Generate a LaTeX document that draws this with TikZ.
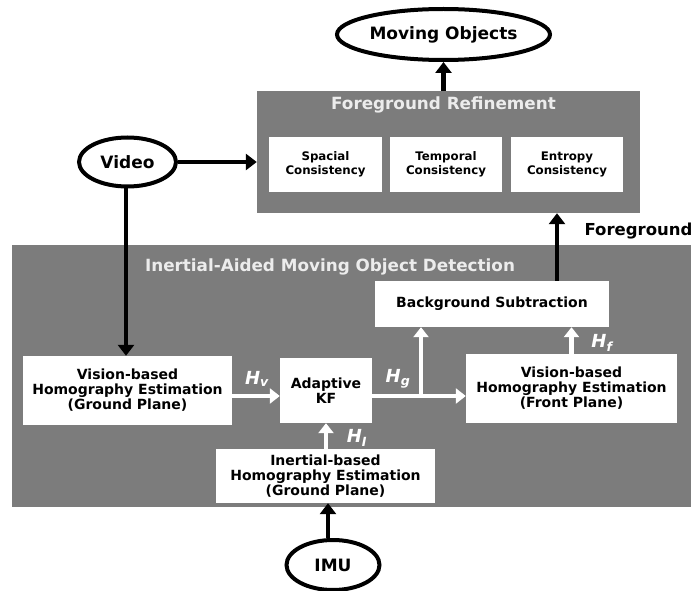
\documentclass[tikz,border=0pt]{standalone}
\usepackage{fontspec}
\setmainfont{DejaVu Sans}
\usetikzlibrary{arrows.meta,shapes.geometric}
\definecolor{panelgray}{RGB}{124,124,124}
\definecolor{paneltext}{RGB}{236,236,236}
\tikzset{
  panel/.style={fill=panelgray, draw=none, inner sep=0pt},
  paneltitle/.style={text=paneltext, font=\bfseries\fontsize{16.8}{18}\selectfont, inner sep=0pt},
  wbox/.style={fill=white, draw=none, align=center, inner sep=0pt,
    font=\bfseries\fontsize{14}{15}\selectfont},
  cbox/.style={wbox, font=\bfseries\fontsize{11.8}{14}\selectfont},
  oval/.style={ellipse, draw=black, line width=4pt, fill=white, inner sep=0pt,
    font=\bfseries\fontsize{17}{20}\selectfont},
  blk/.style={draw=black, line width=4.5pt, -{Triangle[width=16pt,length=11pt]}},
  wht/.style={draw=white, line width=4.5pt, -{Triangle[width=15pt,length=10pt]}},
  hlab/.style={text=white, inner sep=0pt, font=\bfseries\itshape\fontsize{18}{20}\selectfont},
}
\newcommand{\hsym}[1]{H\textsubscript{#1}}
\begin{document}
\begin{tikzpicture}[x=1pt,y=-1pt]
\path[use as bounding box] (0,0) rectangle (694,591);

% outer panels
\node[panel, minimum width=383pt, minimum height=122pt] (fr) at (448.5,152) {};
\node[panel, minimum width=679pt, minimum height=262pt] (iamod) at (351.5,376) {};
\node[paneltitle] (frtitle) at (443.5,105) {Foreground Refinement};
\node[paneltitle] (iatitle) at (330,267) {Inertial-Aided Moving Object Detection};

% refinement stages
\node[cbox, minimum width=113pt, minimum height=55pt] (spa) at (325.5,164.5) {Spacial\\Consistency};
\node[cbox, minimum width=112pt, minimum height=55pt] (tem) at (446,164.5) {Temporal\\Consistency};
\node[cbox, minimum width=112pt, minimum height=55pt] (ent) at (567,164.5) {Entropy\\Consistency};

% detection stages
\node[wbox, minimum width=234pt, minimum height=46pt] (bgs) at (492,304) {Background Subtraction};
\node[wbox, minimum width=209pt, minimum height=69pt] (visg) at (127.5,390.5) {Vision-based\\Homography Estimation\\(Ground Plane)};
\node[wbox, minimum width=92pt, minimum height=65pt] (kf) at (326,390.5) {Adaptive\\KF};
\node[wbox, minimum width=211pt, minimum height=69pt] (visf) at (571.5,388.5) {Vision-based\\Homography Estimation\\(Front Plane)};
\node[wbox, minimum width=219pt, minimum height=54pt] (ine) at (325.5,476) {Inertial-based\\Homography Estimation\\(Ground Plane)};

% inputs and output
\node[oval, minimum width=213pt, minimum height=51pt] (mo) at (443.5,34.5) {Moving Objects};
\node[oval, minimum width=97pt, minimum height=49pt] (video) at (127.5,162) {Video};
\node[oval, minimum width=93pt, minimum height=50pt] (imu) at (333,565) {IMU};

% black data flow
\draw[blk] (video.east) -- (video.east -| fr.west);
\draw[blk] (video.south -| 126,0) -- (visg.north -| 126,0);
\draw[blk] (fr.north -| mo.south) -- (mo.south);
\draw[blk] (bgs.north -| 557,0) -- (fr.south -| 557,0);
\draw[blk] (imu.north -| 328,0) -- (ine.south -| 328,0);
\node[inner sep=0pt, font=\bfseries\fontsize{16.5}{18}\selectfont] (fglab) at (638.5,231.5) {Foreground};

% homography flow
\coordinate (kfout) at (kf.east |- 0,396);
\coordinate (branch) at (421,396);
\draw[wht] (visg.east |- 0,396) -- (kf.west |- 0,396);
\draw[wht] (kfout) -- (visf.west |- kfout);
\draw[wht] (branch) -- (bgs.south -| branch);
\draw[wht] (visf.north) -- (bgs.south -| visf.north);
\draw[wht] (ine.north -| kf.south) -- (kf.south);

\node[hlab] (hv) at (257,379) {\hsym{v}};
\node[hlab] (hg) at (398,379) {\hsym{g}};
\node[hlab] (hf) at (602,343) {\hsym{f}};
\node[hlab] (hi) at (357,438) {\hsym{I}};
\end{tikzpicture}
\end{document}
